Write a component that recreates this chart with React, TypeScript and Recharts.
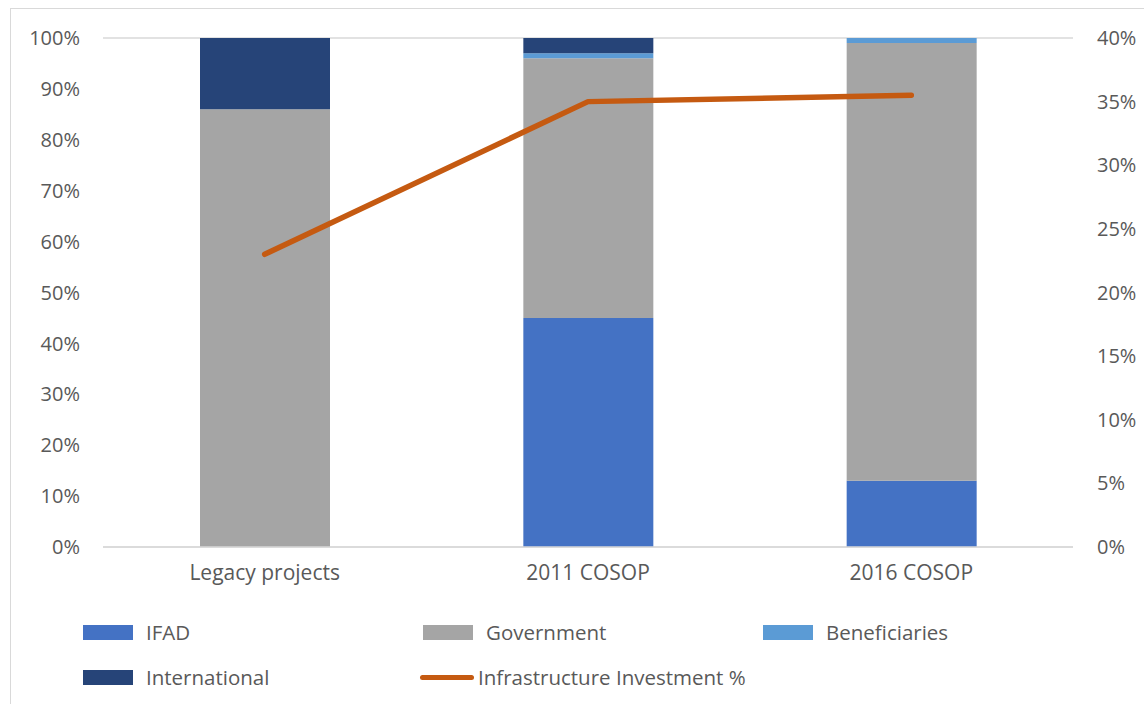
import React from 'react';
import { ComposedChart, Bar, Line, XAxis, YAxis, CartesianGrid } from 'recharts';

const categories = ['Legacy projects', '2011 COSOP', '2016 COSOP'];
const ifad = [0, 45, 13];
const government = [86, 51, 86];
const beneficiaries = [0, 1, 1];
const international = [14, 3, 0];
const infrastructure = [23, 35, 35.5];

const leftTicks = [0, 10, 20, 30, 40, 50, 60, 70, 80, 90, 100];
const rightTicks = [0, 5, 10, 15, 20, 25, 30, 35, 40];

const COLORS = {
  ifad: '#4472C4',
  government: '#A5A5A5',
  beneficiaries: '#5B9BD5',
  international: '#264478',
  infra: '#C55A11',
};

const FONT = '"Open Sans", Lato, sans-serif';
const TEXT = '#595959';

const data = categories.map((name, i) => ({
  name,
  IFAD: ifad[i],
  Government: government[i],
  Beneficiaries: beneficiaries[i],
  International: international[i],
  'Infrastructure Investment %': infrastructure[i],
}));

const legendItems = [
  { name: 'IFAD', color: COLORS.ifad, line: false },
  { name: 'Government', color: COLORS.government, line: false },
  { name: 'Beneficiaries', color: COLORS.beneficiaries, line: false },
  { name: 'International', color: COLORS.international, line: false },
  { name: 'Infrastructure Investment %', color: COLORS.infra, line: true },
];

// legend drawn in html, 3 columns like the original
const ChartLegend = () => (
  <div style={{ position: 'absolute', left: 0, top: 620, width: 1144, height: 80, fontFamily: FONT, fontSize: 20.5, color: TEXT }}>
    {legendItems.map((it, i) => {
      const col = i % 3;
      const row = Math.floor(i / 3);
      const left = 83 + col * 340 - (it.line ? 3 : 0);
      const top = row * 45;
      return (
        <div key={it.name} style={{ position: 'absolute', left, top, display: 'flex', alignItems: 'center', height: 24, whiteSpace: 'nowrap' }}>
          {it.line ? (
            <span style={{ display: 'inline-block', width: 54, height: 5, borderRadius: 3, background: it.color, marginRight: 4 }} />
          ) : (
            <span style={{ display: 'inline-block', width: 50, height: 15, background: it.color, marginRight: 13 }} />
          )}
          <span>{it.name}</span>
        </div>
      );
    })}
  </div>
);

export default function App() {
  const tick = { fill: TEXT, fontSize: 20, fontFamily: FONT };
  return (
    <div style={{ position: 'fixed', left: 0, top: 0, width: 1144, height: 704, overflow: 'hidden', background: '#fff' }}>
      <div style={{ position: 'absolute', left: 10, top: 8, width: 1150, height: 720, border: '1.5px solid #d9d9d9', boxSizing: 'border-box' }} />
      <div style={{ position: 'absolute', left: 0, top: 0 }}>
        <ComposedChart width={1144} height={600} data={data} margin={{ top: 38, right: 0, bottom: 13, left: 0 }} barCategoryGap={0}>
          <CartesianGrid vertical={false} stroke="#d9d9d9" strokeWidth={1.3} />
          <XAxis
            dataKey="name"
            axisLine={{ stroke: '#d9d9d9', strokeWidth: 1.3 }}
            tickLine={false}
            tickSize={0}
            tickMargin={18}
            tick={{ ...tick, fontSize: 21 }}
            height={40}
          />
          <YAxis
            yAxisId="left"
            domain={[0, 100]}
            ticks={leftTicks}
            tickFormatter={(v: number) => `${v}%`}
            axisLine={false}
            tickLine={false}
            tickSize={0}
            tickMargin={23}
            tick={tick}
            width={103}
            interval={0}
          />
          <YAxis
            yAxisId="right"
            orientation="right"
            domain={[0, 40]}
            ticks={rightTicks}
            tickFormatter={(v: number) => `${v}%`}
            axisLine={false}
            tickLine={false}
            tickSize={0}
            tickMargin={24}
            tick={{ ...tick, textAnchor: 'start' }}
            width={71}
            interval={0}
          />
          <Bar yAxisId="left" dataKey="IFAD" stackId="a" fill={COLORS.ifad} barSize={130} isAnimationActive={false} />
          <Bar yAxisId="left" dataKey="Government" stackId="a" fill={COLORS.government} barSize={130} isAnimationActive={false} />
          <Bar yAxisId="left" dataKey="Beneficiaries" stackId="a" fill={COLORS.beneficiaries} barSize={130} isAnimationActive={false} />
          <Bar yAxisId="left" dataKey="International" stackId="a" fill={COLORS.international} barSize={130} isAnimationActive={false} />
          <Line
            yAxisId="right"
            type="linear"
            dataKey="Infrastructure Investment %"
            stroke={COLORS.infra}
            strokeWidth={5.5}
            strokeLinecap="round"
            strokeLinejoin="round"
            dot={false}
            activeDot={false}
            isAnimationActive={false}
          />
        </ComposedChart>
      </div>
      <ChartLegend />
    </div>
  );
}
